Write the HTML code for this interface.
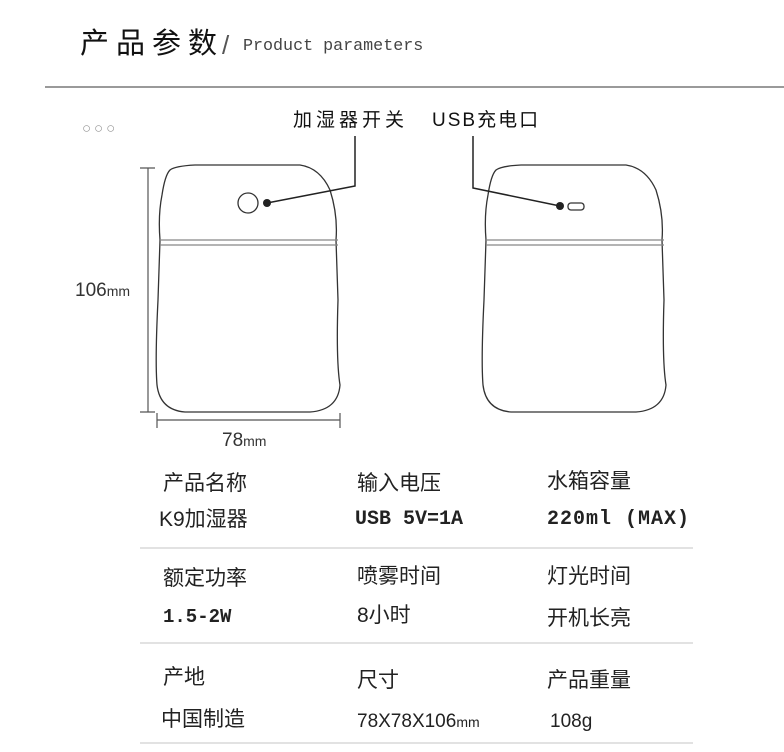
<!DOCTYPE html>
<html><head><meta charset="utf-8"><style>
html,body{margin:0;padding:0;background:#fff;}
body{width:784px;height:752px;position:relative;overflow:hidden;font-family:"Liberation Sans","Noto Sans CJK SC",sans-serif;color:#222;}
.t{position:absolute;white-space:nowrap;line-height:1;}
.c{font-size:21px;}
.m{font-family:"Liberation Mono","Noto Sans CJK SC",monospace;}
.hr{position:absolute;left:140px;width:553px;height:2px;background:#e2e2e2;}
</style></head><body>
<div class="t" style="left:80px;top:30px;font-size:29px;letter-spacing:7px;color:#111;">产品参数</div>
<div class="t" style="left:222px;top:32px;font-size:26px;color:#555;">/</div>
<div class="t m" style="left:243px;top:39px;font-size:16.7px;color:#444;">Product parameters</div>
<div style="position:absolute;left:45px;top:86px;width:739px;height:2px;background:#9a9a9a;"></div>
<div class="t" style="left:82px;top:121px;font-size:15px;color:#999;letter-spacing:3px;">○○○</div>
<div class="t" style="left:293px;top:111px;font-size:19px;letter-spacing:4px;color:#111;">加湿器开关</div>
<div class="t" style="left:432px;top:111px;font-size:19px;letter-spacing:2px;color:#111;">USB充电口</div>
<svg width="784" height="752" style="position:absolute;left:0;top:0" fill="none" stroke="#333">
<g stroke-width="1.3">
<path d="M170,170 Q175,166 195,165 L300,165 Q320,168 330,190 Q338,215 336,240 L338,300 Q336,360 340,385 Q338,410 310,412 L185,412 Q160,410 157,385 Q155,360 158,300 L160,240 Q158,215 162,195 Q165,175 170,170 Z"/>
<path d="M160,240 L338,240 M160,245 L338,245" stroke="#888"/>
<circle cx="248" cy="203" r="10"/>
<path d="M496,170 Q501,166 521,165 L626,165 Q646,168 656,190 Q664,215 662,240 L664,300 Q662,360 666,385 Q664,410 636,412 L511,412 Q486,410 483,385 Q481,360 484,300 L486,240 Q484,215 488,195 Q491,175 496,170 Z"/>
<path d="M486,240 L664,240 M486,245 L664,245" stroke="#888"/>
<rect x="568" y="203" width="16" height="7" rx="3"/>
</g>
<path d="M267,203 L355,186 L355,136" stroke="#222" stroke-width="1.5"/>
<circle cx="267" cy="203" r="4" fill="#222" stroke="none"/>
<path d="M473,136 L473,188 L560,206" stroke="#222" stroke-width="1.5"/>
<circle cx="560" cy="206" r="4" fill="#222" stroke="none"/>
<g stroke="#555" stroke-width="1.2">
<path d="M148,168 L148,412 M140,168 L155,168 M140,412 L155,412"/>
<path d="M157,420 L340,420 M157,413 L157,428 M340,413 L340,428"/>
</g>
</svg>
<div class="t" style="left:75px;top:281px;font-size:19px;color:#333;">106<span style="font-size:14px">mm</span></div>
<div class="t" style="left:222px;top:431px;font-size:19px;color:#333;">78<span style="font-size:14px">mm</span></div>

<div class="t c" style="left:163px;top:473px;">产品名称</div>
<div class="t c" style="left:357px;top:473px;">输入电压</div>
<div class="t c" style="left:547px;top:471px;">水箱容量</div>
<div class="t c" style="left:159px;top:509px;">K9加湿器</div>
<div class="t c m" style="left:355px;top:510px;font-size:20px;font-weight:bold;">USB 5V=1A</div>
<div class="t c m" style="left:547px;top:510px;font-size:20px;font-weight:bold;letter-spacing:1px;">220ml (MAX)</div>
<div class="hr" style="top:547px;"></div>

<div class="t c" style="left:163px;top:568px;">额定功率</div>
<div class="t c" style="left:357px;top:566px;">喷雾时间</div>
<div class="t c" style="left:547px;top:566px;">灯光时间</div>
<div class="t c m" style="left:163px;top:608px;font-size:19px;font-weight:bold;">1.5-2W</div>
<div class="t c" style="left:357px;top:605px;">8小时</div>
<div class="t c" style="left:547px;top:608px;">开机长亮</div>
<div class="hr" style="top:642px;"></div>

<div class="t c" style="left:163px;top:667px;">产地</div>
<div class="t c" style="left:357px;top:670px;">尺寸</div>
<div class="t c" style="left:547px;top:670px;">产品重量</div>
<div class="t c" style="left:161px;top:709px;">中国制造</div>
<div class="t c" style="left:357px;top:712px;font-size:19px;">78X78X106<span style="font-size:14px">mm</span></div>
<div class="t c" style="left:550px;top:712px;font-size:19px;">108g</div>
<div class="hr" style="top:742px;"></div>
</body></html>
